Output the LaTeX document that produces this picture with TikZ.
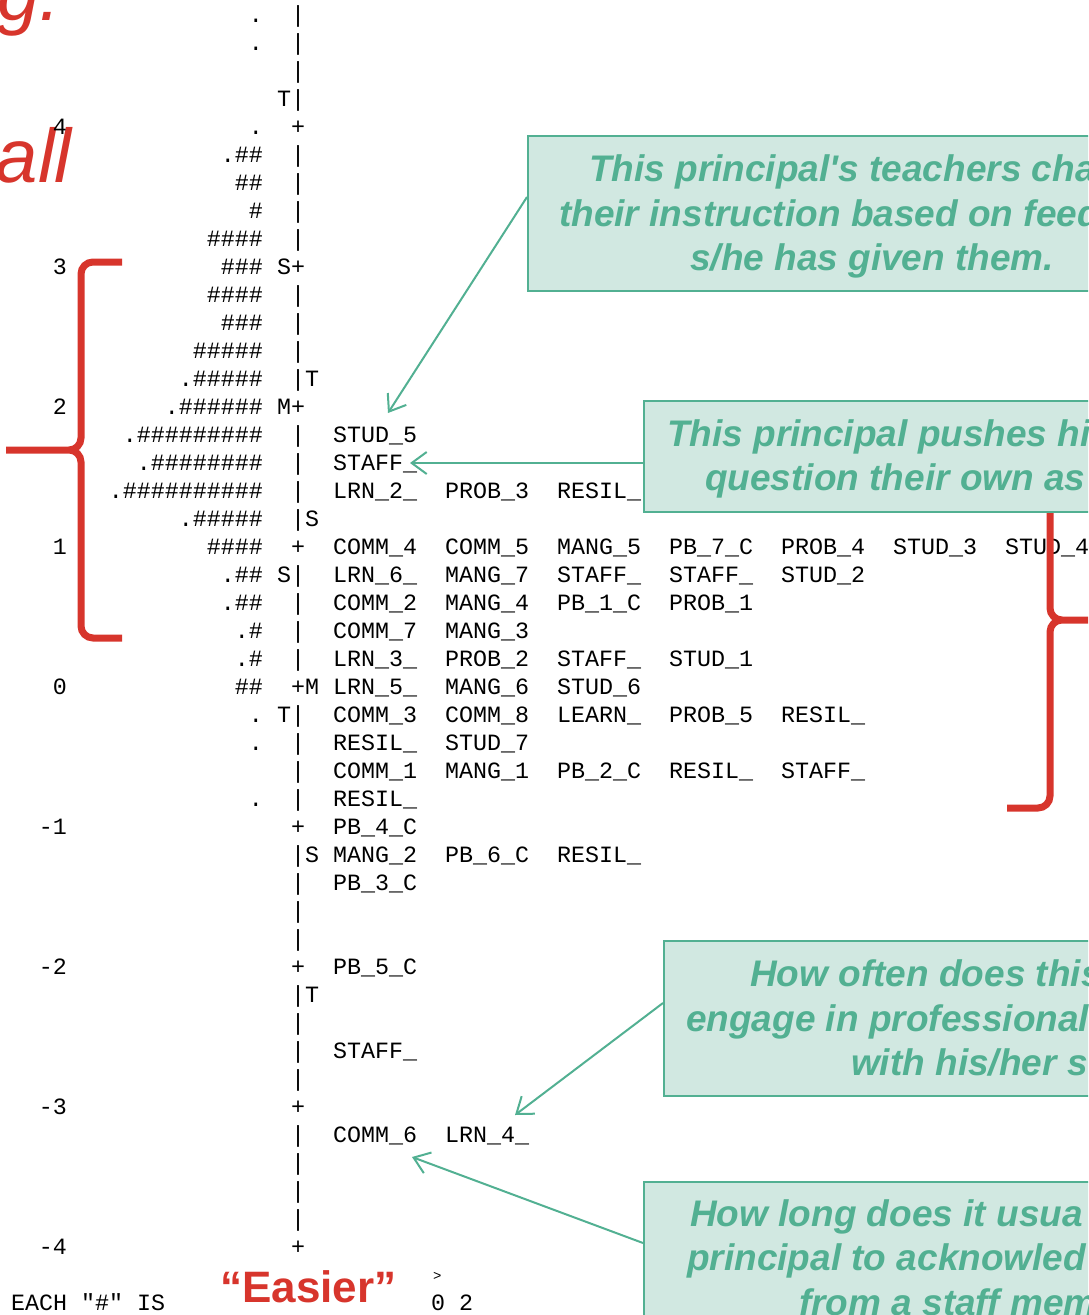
\documentclass[tikz,border=0pt]{standalone}
\usepackage{fontspec}
\setmainfont{Liberation Sans}
\setmonofont{Liberation Mono}
\usepackage{tikz}
\usetikzlibrary{arrows.meta,calc}
\definecolor{cRed}{HTML}{D7352C}
\definecolor{cGrn}{HTML}{52B092}
\definecolor{cMint}{HTML}{D1E8E1}
\tikzset{
  mapt/.style={font=\ttfamily\fontsize{23.33}{28}\selectfont,inner sep=0pt},
  redtxt/.style={font=\fontsize{76}{80}\selectfont\itshape,text=cRed,inner sep=0pt},
  callbox/.style={draw=cGrn,fill=cMint,line width=2pt,inner sep=0pt,anchor=north west},
  calltxt/.style={font=\fontsize{37}{44}\selectfont\bfseries\itshape,text=cGrn,inner sep=0pt,anchor=base west},
  redbrace/.style={draw=cRed,line width=7pt,rounded corners=12pt},
  callarr/.style={draw=cGrn,line width=2pt,-{Straight Barb[length=15pt,width=22pt]}},
}
% one row of the map: row, logit, persons, axis marks, items
\newcommand\maprow[5]{%
  \pgfmathsetmacro\rowy{22+28*#1}
  \node[mapt,anchor=base east] (v#1) at (67,\rowy) {#2};
  \node[mapt,anchor=base east] (p#1) at (263,\rowy) {#3};
  \node[mapt,anchor=base west] (a#1) at (277,\rowy) {#4};
  \node[mapt,anchor=base west] (i#1) at (333,\rowy) {#5};
}

\begin{document}
\begin{tikzpicture}[x=1pt,y=-1pt]
  \useasboundingbox (0,0) rectangle (1088,1315);
  \clip (0,0) rectangle (1088,1315);
  % slide title remains, behind the map
  \node[redtxt,anchor=base west] (hd1) at (-3,20) {g.};
  \node[redtxt,anchor=base east] (hd2) at (72,182) {all};
  % the map
  \maprow{0}{}{.}{~|}{}
  \maprow{1}{}{.}{~|}{}
  \maprow{2}{}{}{~|}{}
  \maprow{3}{}{}{T|}{}
  \maprow{4}{4}{.}{~+}{}
  \maprow{5}{}{.\#\#}{~|}{}
  \maprow{6}{}{\#\#}{~|}{}
  \maprow{7}{}{\#}{~|}{}
  \maprow{8}{}{\#\#\#\#}{~|}{}
  \maprow{9}{3}{\#\#\#}{S+}{}
  \maprow{10}{}{\#\#\#\#}{~|}{}
  \maprow{11}{}{\#\#\#}{~|}{}
  \maprow{12}{}{\#\#\#\#\#}{~|}{}
  \maprow{13}{}{.\#\#\#\#\#}{~|T}{}
  \maprow{14}{2}{.\#\#\#\#\#\#}{M+}{}
  \maprow{15}{}{.\#\#\#\#\#\#\#\#\#}{~|}{STUD\_5}
  \maprow{16}{}{.\#\#\#\#\#\#\#\#}{~|}{STAFF\_}
  \maprow{17}{}{.\#\#\#\#\#\#\#\#\#\#}{~|}{LRN\_2\_~~PROB\_3~~RESIL\_}
  \maprow{18}{}{.\#\#\#\#\#}{~|S}{}
  \maprow{19}{1}{\#\#\#\#}{~+}{COMM\_4~~COMM\_5~~MANG\_5~~PB\_7\_C~~PROB\_4~~STUD\_3~~STUD\_4}
  \maprow{20}{}{.\#\#}{S|}{LRN\_6\_~~MANG\_7~~STAFF\_~~STAFF\_~~STUD\_2}
  \maprow{21}{}{.\#\#}{~|}{COMM\_2~~MANG\_4~~PB\_1\_C~~PROB\_1}
  \maprow{22}{}{.\#}{~|}{COMM\_7~~MANG\_3}
  \maprow{23}{}{.\#}{~|}{LRN\_3\_~~PROB\_2~~STAFF\_~~STUD\_1}
  \maprow{24}{0}{\#\#}{~+M}{LRN\_5\_~~MANG\_6~~STUD\_6}
  \maprow{25}{}{.}{T|}{COMM\_3~~COMM\_8~~LEARN\_~~PROB\_5~~RESIL\_}
  \maprow{26}{}{.}{~|}{RESIL\_~~STUD\_7}
  \maprow{27}{}{}{~|}{COMM\_1~~MANG\_1~~PB\_2\_C~~RESIL\_~~STAFF\_}
  \maprow{28}{}{.}{~|}{RESIL\_}
  \maprow{29}{-1}{}{~+}{PB\_4\_C}
  \maprow{30}{}{}{~|S}{MANG\_2~~PB\_6\_C~~RESIL\_}
  \maprow{31}{}{}{~|}{PB\_3\_C}
  \maprow{32}{}{}{~|}{}
  \maprow{33}{}{}{~|}{}
  \maprow{34}{-2}{}{~+}{PB\_5\_C}
  \maprow{35}{}{}{~|T}{}
  \maprow{36}{}{}{~|}{}
  \maprow{37}{}{}{~|}{STAFF\_}
  \maprow{38}{}{}{~|}{}
  \maprow{39}{-3}{}{~+}{}
  \maprow{40}{}{}{~|}{COMM\_6~~LRN\_4\_}
  \maprow{41}{}{}{~|}{}
  \maprow{42}{}{}{~|}{}
  \maprow{43}{}{}{~|}{}
  \maprow{44}{-4}{}{~+}{}
  \node[mapt,font=\ttfamily\fontsize{14}{14}\selectfont,anchor=base west] (gt) at (433,1280) {>};
  \node[mapt,anchor=base west] (each) at (11,1310) {EACH~"\#"~IS};
  \node[mapt,anchor=base west] (cnt) at (431,1310) {0~2};
  \node[font=\fontsize{44}{50}\selectfont\bfseries,text=cRed,inner sep=0pt,anchor=base west] (easy) at (220,1302) {“Easier”};
  % red braces
  \draw[redbrace] (122,262) -- (81,262) -- (81,450) -- (6,450) (6,450) -- (81,450) -- (81,638) -- (122,638);
  \draw[redbrace] (1050,495) -- (1050,620) -- (1100,620) (1100,620) -- (1050,620) -- (1050,808) -- (1007,808);
  % callouts
  \node[callbox,minimum width=620pt,minimum height=155pt] (c1) at (527,135) {};
  \node[calltxt] (c1a) at (589,181) {This principal\textquotesingle s teachers cha};
  \node[calltxt] (c1b) at (559,226) {their instruction based on feed};
  \node[calltxt] (c1c) at (690,270) {s/he has given them.};
  \node[callbox,minimum width=500pt,minimum height=111pt] (c2) at (643,400) {};
  \node[calltxt] (c2a) at (667,446) {This principal pushes hi};
  \node[calltxt] (c2b) at (705,490) {question their own as};
  \node[callbox,minimum width=500pt,minimum height=155pt] (c3) at (663,940) {};
  \node[calltxt] (c3a) at (750,986) {How often does this};
  \node[calltxt] (c3b) at (686,1031) {engage in professional};
  \node[calltxt] (c3c) at (851,1075) {with his/her s};
  \node[callbox,minimum width=500pt,minimum height=160pt] (c4) at (643,1181) {};
  \node[calltxt] (c4a) at (690,1226) {How long does it usua};
  \node[calltxt] (c4b) at (687,1270) {principal to acknowled};
  \node[calltxt] (c4c) at (799,1315) {from a staff mem};
  \coordinate (t1) at (388,413);
  \coordinate (t2) at (410,463);
  \coordinate (t3) at (515,1115);
  \coordinate (t4) at (412,1157);
  \draw[callarr] ($(c1.north west)+(0,62)$) -- (t1);
  \draw[callarr] ($(c2.north west)+(0,63)$) -- (t2);
  \draw[callarr] ($(c3.north west)+(0,63)$) -- (t3);
  \draw[callarr] ($(c4.north west)+(0,62)$) -- (t4);
\end{tikzpicture}
\end{document}
